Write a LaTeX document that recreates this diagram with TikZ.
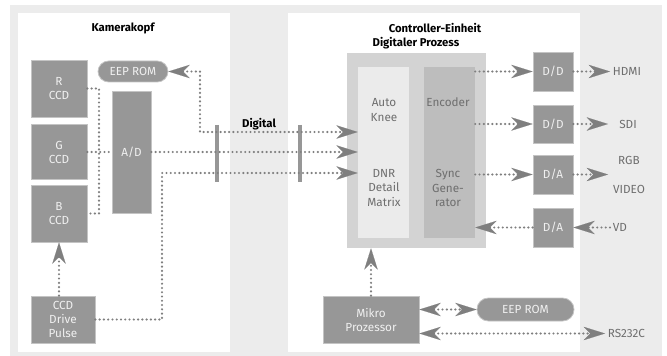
\documentclass[tikz,border=0pt]{standalone}
\usepackage{fontspec}
\setmainfont{Fira Sans}
\usetikzlibrary{arrows.meta}

\definecolor{bggray}{HTML}{ECECEC}
\definecolor{boxgray}{HTML}{979797}
\definecolor{boxedge}{HTML}{C4C4C4}
\definecolor{dotgray}{HTML}{7F7F7F}
\definecolor{procgray}{HTML}{D3D3D3}
\definecolor{kneegray}{HTML}{EBEBEB}
\definecolor{encgray}{HTML}{BDBDBD}
\definecolor{labgray}{HTML}{6E6E6E}

\begin{document}
\begin{tikzpicture}[x=0.75pt, y=-0.75pt,
  font=\fontsize{8.8}{10.5}\selectfont,
  >={Stealth[length=16pt, width=10pt, inset=5pt, line width=0.1pt]},
  blk/.style={fill=boxgray, draw=boxedge, line width=0.6pt, text=white!94!black, align=center, inner sep=0pt},
  rom/.style={blk, rounded corners=8pt},
  sig/.style={draw=dotgray, line width=1.8pt, dash pattern=on 0pt off 3.2pt, line cap=round},
  bar/.style={draw=boxgray, line width=3.6pt},
  outlab/.style={text=labgray, inner sep=2pt},
  inlab/.style={text=labgray, align=center, font=\fontsize{8.8}{11}\selectfont},
  title/.style={font=\fontsize{8.5}{10.5}\selectfont\bfseries}]
\useasboundingbox (0,0) rectangle (667,356);
\fill[bggray] (10,5) rectangle (662,356);
\fill[white] (18,13) rectangle (230,352);
\fill[white] (288,13) rectangle (580,352);

% Kamerakopf
\node[title] (camtitle) at (123,28) {Kamerakopf};
\node[blk, minimum width=42pt, minimum height=42.75pt] (rccd) at (59,88.5) {R\\CCD};
\node[blk, minimum width=42pt, minimum height=41.25pt] (gccd) at (59,152) {G\\CCD};
\node[blk, minimum width=42pt, minimum height=42.75pt] (bccd) at (59,213.5) {B\\CCD};
\node[rom, minimum width=52.5pt, minimum height=15.75pt] (eepl) at (133,71.5) {EEP ROM};
\node[blk, minimum width=29.25pt, minimum height=91.5pt] (ad) at (131.5,152) {A/D};
\node[blk, minimum width=48pt, minimum height=35.25pt] (drive) at (63,319.5) {CCD\\Drive\\Pulse};

\coordinate (bus) at (99,0);
\coordinate (romturn) at (200,132);
\coordinate (driveturn) at (162,173);
\draw[sig] (rccd.east) -- (rccd.east -| bus) -- (bccd.east -| bus) -- (bccd.east);
\draw[sig] (gccd.east) -- (ad.west |- gccd.east);
\draw[sig, ->] (drive.north -| bccd) -- (bccd.south);

% Controller-Einheit
\node[title] (ctltitle) at (435,28) {Controller-Einheit};
\node[title] (dptitle) at (416,43) {Digitaler Prozess};
\node[fill=procgray, minimum width=104.25pt, minimum height=146.25pt, inner sep=0pt] (proc) at (416.5,150.5) {};
\node[fill=kneegray, minimum width=38.25pt, minimum height=128.25pt, inner sep=0pt] (knee) at (383.5,152.5) {};
\node[fill=encgray, minimum width=38.25pt, minimum height=128.25pt, inner sep=0pt] (enc) at (449.5,152.5) {};
\node[inlab] (kneetxt) at (384,110) {Auto\\Knee};
\node[inlab] (dnrtxt) at (384,188) {DNR\\Detail\\Matrix};
\node[inlab] (enctxt) at (448,102) {Encoder};
\node[inlab] (synctxt) at (448,188) {Sync\\Gene-\\rator};

\node[blk, minimum width=30pt, minimum height=29.25pt] (dd1) at (553,71.5) {D/D};
\node[blk, minimum width=30pt, minimum height=28.5pt] (dd2) at (553,124) {D/D};
\node[blk, minimum width=30pt, minimum height=29.25pt] (da1) at (553,174.5) {D/A};
\node[blk, minimum width=30pt, minimum height=29.25pt] (da2) at (553,227.5) {D/A};
\node[blk, minimum width=72pt, minimum height=35.25pt] (mp) at (371,319.5) {Mikro\\Prozessor};
\node[rom, minimum width=72.75pt, minimum height=17.25pt, rounded corners=8.5pt] (eepr) at (525.5,309.5) {EEP ROM};

\node[outlab, anchor=west] (hdmi) at (610,71.5) {HDMI};
\node[outlab] (sdi) at (628,124) {SDI};
\node[outlab] (rgb) at (629,160) {RGB};
\node[outlab] (video) at (629,189) {VIDEO};
\coordinate (outend) at (608,174.5);
\node[outlab, anchor=west] (vd) at (610,227.5) {VD};
\node[outlab, anchor=west] (rs) at (605,333.5) {RS232C};

% Digital
\node[title] (digital) at (259,124) {Digital};
\draw[bar] (217,125) -- (217,182);
\draw[bar] (300,125) -- (300,182);
\draw[sig, <->] (eepl.east) -| (romturn) -- (knee.west |- romturn);
\draw[sig, ->] (ad.east |- gccd.east) -- (knee.west |- gccd.east);
\draw[sig, ->] (drive.east) -| (driveturn) -- (knee.west |- driveturn);

\draw[sig, ->] (enc.east |- dd1) -- (dd1.west);
\draw[sig, ->] (enc.east |- dd2) -- (dd2.west);
\draw[sig, ->] (enc.east |- da1) -- (da1.west);
\draw[sig, ->] (da2.west) -- (enc.east |- da2);
\draw[sig, ->] (dd1.east) -- (hdmi.west);
\draw[sig, ->] (dd2.east) -- (dd2.east -| outend);
\draw[sig, ->] (da1.east) -- (outend);
\draw[sig, ->] (vd.west) -- (da2.east);
\draw[sig, ->] (mp.north) -- (mp.north |- proc.south);
\draw[sig, <->] (mp.east |- eepr) -- (eepr.west);
\draw[sig, <->] (mp.east |- rs) -- (rs.west);
\end{tikzpicture}
\end{document}
